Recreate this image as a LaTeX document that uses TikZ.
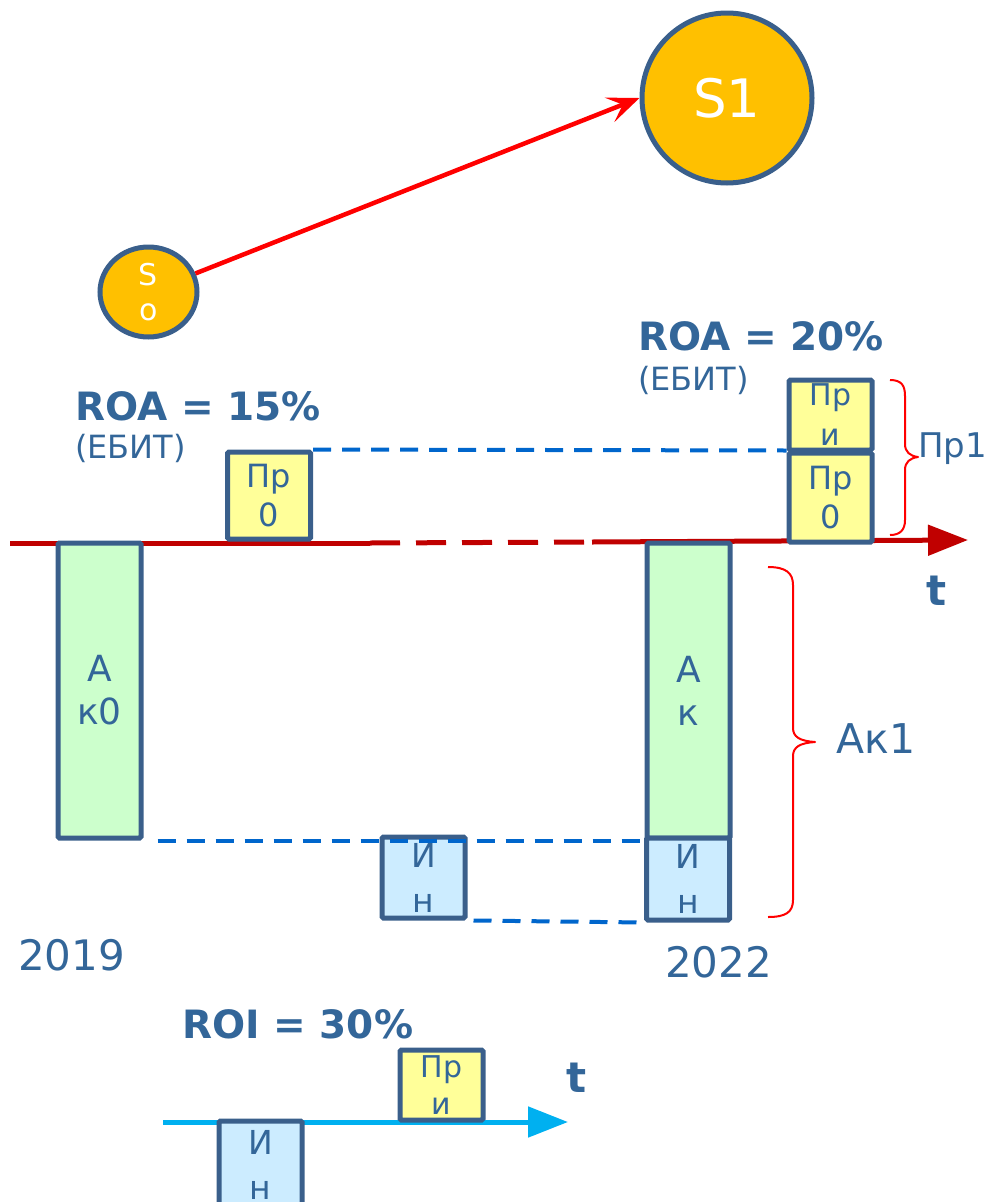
\documentclass[tikz,border=0pt]{standalone}
\usepackage{fontspec}
\setmainfont{DejaVu Sans}
\usetikzlibrary{arrows.meta,shapes.geometric}
\definecolor{txt}{HTML}{336699}
\definecolor{edge}{HTML}{3A5F8B}
\definecolor{sun}{HTML}{FFC000}
\definecolor{axred}{HTML}{C00000}
\definecolor{axcyan}{HTML}{00B0F0}
\definecolor{guide}{HTML}{0066CC}
\definecolor{profit}{HTML}{FFFF99}
\definecolor{asset}{HTML}{CCFFCC}
\definecolor{invest}{HTML}{CCECFF}
\newcommand\fsz[2]{\fontsize{#1}{#2}\selectfont}
\begin{document}
\begin{tikzpicture}[x=1pt,y=-1pt,
  cell/.style={draw=edge, line width=5pt, rounded corners=1.5pt, inner sep=0pt,
               align=center, text=txt},
  prbox/.style={cell, fill=profit, minimum width=83pt},
  akbox/.style={cell, fill=asset, minimum width=83pt, minimum height=295pt,
                font=\fsz{36}{43}},
  inbox/.style={cell, fill=invest, minimum width=83pt, font=\fsz{33}{45}},
  ball/.style={draw=edge, line width=5pt, fill=sun, text=white, inner sep=0pt, align=center},
  lbl/.style={anchor=base west, inner sep=0pt, text=txt},
  axis/.style={draw=axred, line width=5pt},
  guideline/.style={draw=guide, line width=4pt, dash pattern=on 18pt off 11pt},
  bracket/.style={draw=red, line width=2pt, line join=round}
]
\useasboundingbox (0,0) rectangle (986,1202);

% states and transition
\node[ball, circle, minimum size=170pt, font=\fsz{53}{60}] (s1) at (727,98) {S1};
\node[ball, ellipse, minimum width=97pt, minimum height=90pt, font=\fsz{30}{35}] (so) at (148.5,292) {S\\o};
\draw[red, line width=4.5pt, -{Stealth[length=32pt,width=26pt,inset=14pt]}] (so) -- (s1.west);

% main time axis
\coordinate (axL) at (10,543);
\coordinate (axA) at (370,543);
\coordinate (axB) at (592,542);
\coordinate (axR) at (968,540);
\draw[axis] (axL) -- (axA);
\draw[axis, dash pattern=on 30pt off 16pt] (axA) -- (axB);
\draw[axis, -{Triangle[length=40pt,width=30pt]}] (axB) -- (axR);

% 2019 balance
\node[prbox, minimum height=87pt, font=\fsz{32}{39}] (pr0a) at (269,495.5) {Пр\\0};
\node[akbox] (ak0) at (99.5,690.5) {А\\к0};
\node[inbox, minimum height=81pt] (in1) at (423.5,877.5) {И\\н};

% 2022 balance
\node[akbox] (ak1) at (688.5,690.5) {А\\к};
\node[inbox, minimum height=82pt] (in2) at (688,879) {И\\н};
\node[prbox, minimum height=89pt, font=\fsz{32}{39}] (pr0b) at (830.5,497.5) {Пр\\0};
\node[prbox, minimum height=70pt, font=\fsz{30}{40}] (pri) at (830.5,415) {Пр\\и};

% guide lines
\draw[guideline] (pr0a.north east) -- (pr0b.north west);
\draw[guideline] ([xshift=14pt]ak0.south east) -- (ak1.south west);
\draw[guideline] ([xshift=6pt]in1.south east) -- (in2.south west);

% brackets
\draw[bracket] (890,380) .. controls (902,380) and (905,386) .. (905,396)
  -- (905,444) .. controls (905,452) and (910,456) .. (918,457)
  .. controls (910,458) and (905,462) .. (905,470)
  -- (905,520) .. controls (905,530) and (900,535) .. (890,535);
\draw[bracket] (768,567) .. controls (786,567) and (793,573) .. (793,585)
  -- (793,728) .. controls (793,737) and (800,741) .. (815,742)
  .. controls (800,743) and (793,747) .. (793,756)
  -- (793,900) .. controls (793,912) and (786,917) .. (768,917);

% labels
\node[lbl, font=\bfseries\fsz{39}{44}] (roa0) at (75,420) {ROA = 15\%};
\node[lbl, font=\fsz{32}{38}] (ebit0) at (75,458) {(ЕБИТ)};
\node[lbl, font=\bfseries\fsz{39}{44}] (roa1) at (638,350) {ROA = 20\%};
\node[lbl, font=\fsz{32}{38}] (ebit1) at (638,390) {(ЕБИТ)};
\node[lbl, font=\fsz{34}{40}] (pr1) at (918,457) {Пр1};
\node[lbl, font=\fsz{41}{48}] (ak1lbl) at (836,753) {Ак1};
\node[lbl, font=\bfseries\fsz{42}{48}] (t1) at (926,605) {t};
\node[lbl, font=\fsz{42}{48}] (y2019) at (18,970) {2019};
\node[lbl, font=\fsz{42}{48}] (y2022) at (665,977) {2022};

% return on investment
\node[lbl, font=\bfseries\fsz{39}{44}] (roi) at (182,1038) {ROI = 30\%};
\coordinate (roiL) at (163,1122);
\coordinate (roiR) at (568,1122);
\draw[draw=axcyan, line width=5pt, -{Triangle[length=40pt,width=30pt]}] (roiL) -- (roiR);
\node[inbox, minimum height=88pt] (in3) at (260.5,1165) {И\\н};
\node[prbox, minimum height=70pt, font=\fsz{30}{37}] (pr2) at (441.5,1085) {Пр\\и};
\node[lbl, font=\bfseries\fsz{42}{48}] (t2) at (566,1092) {t};
\end{tikzpicture}
\end{document}
